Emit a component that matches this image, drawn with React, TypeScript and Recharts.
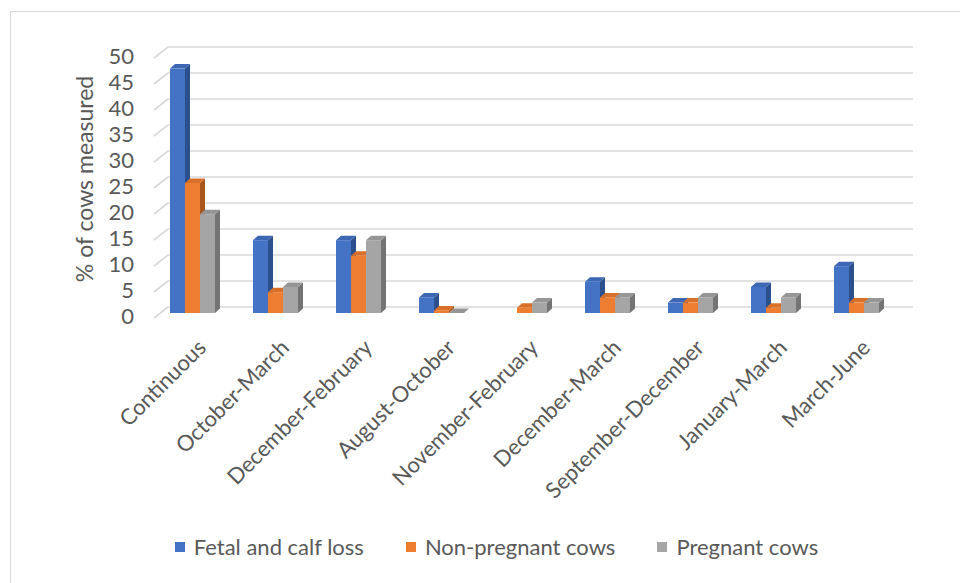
import React from 'react';
import { BarChart, Bar, XAxis, YAxis, CartesianGrid, Legend } from 'recharts';

const categories = [
  'Continuous',
  'October-March',
  'December-February',
  'August-October',
  'November-February',
  'December-March',
  'September-December',
  'January-March',
  'March-June',
];
const fetalLoss = [47, 14, 14, 3, null, 6, 2, 5, 9];
const nonPregnant = [25, 4, 11, 0.5, 1, 3, 2, 1, 2];
const pregnant = [19, 5, 14, 0, 2, 3, 3, 3, 2];
const yTicks = [0, 5, 10, 15, 20, 25, 30, 35, 40, 45, 50];

const FONT = 'Lato, "Open Sans", sans-serif';
const TEXT = '#595959';
const GRID = '#d9d9d9';

const series = [
  { key: 'fetal', name: 'Fetal and calf loss', front: '#4472C4', top: '#3D66B3', side: '#2C4F8E' },
  { key: 'nonPreg', name: 'Non-pregnant cows', front: '#ED7D31', top: '#D8702A', side: '#A9561D' },
  { key: 'preg', name: 'Pregnant cows', front: '#A5A5A5', top: '#969696', side: '#747474' },
];

const data = categories.map((c, i) => ({
  name: c,
  fetal: fetalLoss[i],
  nonPreg: nonPregnant[i],
  preg: pregnant[i],
}));

// depth of the fake 3d boxes
const DX = 5;
const DY = 4.5;

const make3DShape = (front: string, top: string, side: string) => (props: any) => {
  const { x, y, width, height } = props;
  if (x == null || y == null || width == null || height == null || isNaN(height)) return <g />;
  const b = y + height;
  return (
    <g>
      <polygon points={`${x + width},${y} ${x + width + DX},${y - DY} ${x + width + DX},${b - DY} ${x + width},${b}`} fill={side} />
      <polygon points={`${x},${y} ${x + DX},${y - DY} ${x + width + DX},${y - DY} ${x + width},${y}`} fill={top} />
      {height > 0 && <rect x={x} y={y} width={width} height={height} fill={front} />}
    </g>
  );
};

const gridLine = (props: any) => {
  const { x1, x2, y1 } = props;
  return (
    <g key={props.key ?? `g-${y1}`}>
      <line x1={x1 + 3} y1={y1 + 5} x2={x1 + 17} y2={y1 - 6} stroke={GRID} strokeWidth={1.6} />
      <line x1={x1 + 17} y1={y1 - 6} x2={x2 + 15} y2={y1 - 6} stroke={GRID} strokeWidth={1.6} />
    </g>
  );
};

const YTick = (props: any) => {
  const { x, y, payload } = props;
  return (
    <text x={x} y={y + 5} textAnchor="end" dominantBaseline="middle" fill={TEXT} fontSize={22} fontFamily={FONT}>
      {payload.value}
    </text>
  );
};

const XTick = (props: any) => {
  const { x, y, payload } = props;
  const tx = x + 15;
  const ty = y + 36;
  return (
    <text x={tx} y={ty} textAnchor="end" transform={`rotate(-45 ${tx} ${ty})`} fill={TEXT} fontSize={22} fontFamily={FONT}>
      {payload.value}
    </text>
  );
};

const YTitle = (props: any) => {
  const vb = props.viewBox;
  const cx = vb.x - 4;
  const cy = vb.y + vb.height / 2 - 4;
  return (
    <text x={cx} y={cy} textAnchor="middle" dominantBaseline="middle" transform={`rotate(-90 ${cx} ${cy})`} fill={TEXT} fontSize={23} fontFamily={FONT}>
      % of cows measured
    </text>
  );
};

const LegendContent = () => (
  <div style={{ display: 'flex', justifyContent: 'center', paddingLeft: 33, fontFamily: FONT, fontSize: 22, color: TEXT }}>
    {series.map((s, i) => (
      <div key={s.key} style={{ display: 'flex', alignItems: 'center', marginRight: i < series.length - 1 ? 42 : 0 }}>
        <span style={{ display: 'inline-block', width: 10, height: 10, background: s.front, marginRight: 9 }} />
        <span>{s.name}</span>
      </div>
    ))}
  </div>
);

export default function App() {
  return (
    <div style={{ position: 'absolute', left: 0, top: 0, width: 960, height: 583, background: '#fff', overflow: 'hidden' }}>
      <div style={{ position: 'absolute', left: 10, top: 11, width: 980, height: 620, border: `1.5px solid ${GRID}` }} />
      <div style={{ position: 'absolute', left: 0, top: 0 }}>
        <BarChart width={960} height={583} data={data} margin={{ top: 53, right: 62, left: 91, bottom: 70 }} barGap={0} barSize={15}>
          <CartesianGrid vertical={false} horizontal={gridLine} />
          <XAxis dataKey="name" axisLine={false} tickLine={false} tickSize={0} tickMargin={0} height={200} interval={0} tick={<XTick />} />
          <YAxis domain={[0, 50]} ticks={yTicks} axisLine={false} tickLine={false} tickSize={0} tickMargin={17} width={60} tick={<YTick />} label={<YTitle />} />
          {series.map((s) => (
            <Bar key={s.key} dataKey={s.key} name={s.name} fill={s.front} isAnimationActive={false} shape={make3DShape(s.front, s.top, s.side)} />
          ))}
          <Legend layout="horizontal" verticalAlign="middle" align="center" wrapperStyle={{ top: 533, left: 0, width: 960 }} content={<LegendContent />} />
        </BarChart>
      </div>
    </div>
  );
}
